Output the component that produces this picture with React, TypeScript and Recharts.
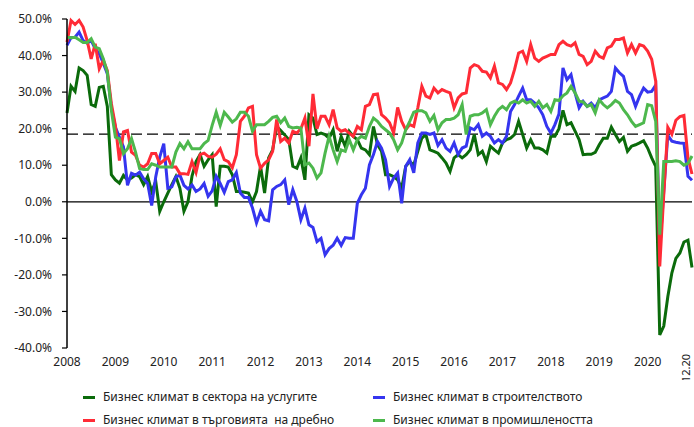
import { LineChart, Line, XAxis, YAxis, ReferenceLine } from 'recharts';

// ---------------------------------------------------------------------------
// Data (monthly, 01.2008 - 12.2020), balance in %
// ---------------------------------------------------------------------------

const years = ['2008', '2009', '2010', '2011', '2012', '2013', '2014', '2015', '2016', '2017', '2018', '2019', '2020'];
const monthNums = ['01', '02', '03', '04', '05', '06', '07', '08', '09', '10', '11', '12'];
const months = years.flatMap((y) => monthNums.map((m) => `${m}.${y}`));

const xTicks = [...years.map((y) => `01.${y}`), '12.2020'];
const lastTickLabel = '12.20';
const yTicks = [-40, -30, -20, -10, 0, 10, 20, 30, 40, 50];
const longTermAverage = 18.5;

const services = [
  24.3, 31.6, 30.2, 36.6, 35.9, 34.6, 26.6, 26.1, 31.3, 31.6,
  26.1, 7.4, 6, 5.1, 7.2, 6, 6.5, 7.4, 6.9, 4.7,
  6.9, 2.8, 5.6, -2.6, 0, 2.4, 4.7, 6.9, 3.7, -2.6,
  0, 7, 11, 12.9, 9.7, 11.5, 12.9, -1.3, 9.7, 9.7,
  9.5, 7.4, 2.8, 2.8, 2.6, 2.4, 0, 2.8, 9.7, 2.4,
  12, 14.2, 20.6, 19.5, 18.3, 17, 9.7, 9.2, 12, 6,
  23.8, 22.9, 18.4, 18.8, 18.4, 17.4, 19.7, 13.8, 17.9, 15.2,
  19.3, 17.9, 17, 14.7, 14.2, 12.9, 20.6, 15.6, 13.8, 7.4,
  7.4, 6.9, 6, 3.7, 9.7, 11, 10.1, 13.8, 17.4, 18.4,
  14.2, 13.8, 13.3, 12, 10.6, 8.3, 12, 12.9, 12, 12.9,
  14.2, 18.4, 12.9, 13.8, 11, 15.2, 14.2, 13.3, 16.1, 17,
  17.4, 18.4, 22, 18.4, 14.7, 17, 14.7, 14.7, 14.2, 13.3,
  17.9, 17.9, 20, 25, 21.1, 21.6, 19.3, 17, 12.9, 13,
  13, 13.5, 15.6, 17.4, 17.4, 20.4, 18.4, 16.5, 17.6, 13.8,
  15.2, 15.6, 16.1, 16.7, 14.7, 12, 9.7, -36.4, -34, -26,
  -19.5, -15.5, -14, -11, -10.5, -18,
];

const construction = [
  42.8, 44.9, 45, 46.4, 44.1, 43.4, 44.1, 41.9, 40.5, 37.9,
  35, 25.8, 20.4, 17.7, 15, 4.5, 7.8, 7.3, 8.1, 6.3,
  5, -1, 6.8, 12.2, 15.9, 3.7, 4.1, 6.8, 7.3, 4.5,
  3.5, 4.6, 2.8, 3.5, 5, 1.5, 3, 7, 5, 2.6,
  5.5, 6, 8, 2.4, 1.2, 1.2, -1.7, -5.8, -2.6, -4.9,
  -5.2, 3.3, 4.2, 4.7, 6, -0.8, 3.3, 0.1, -4.9, -1.7,
  -6.3, -7, -10.9, -10, -14.5, -12.8, -11.9, -10, -11.9, -9.8,
  -10, -10, -0.4, 1.9, 3.7, 10.1, 12.9, 16.5, 14.7, 11.5,
  4.2, 6.5, 7.9, -0.4, 9.7, 11.5, 7.9, 16.1, 18.8, 18.8,
  18.4, 18.8, 15.4, 17, 14.7, 13.8, 16.1, 12.9, 14.7, 15.2,
  20.2, 19.7, 21.1, 17.9, 18.8, 17.9, 16.1, 17, 16.1, 17.9,
  24.7, 26.6, 28.9, 31.1, 27.9, 27.9, 27, 25.7, 23.8, 20.6,
  18.8, 21.1, 24, 36.6, 33.4, 34.8, 29.8, 25.7, 27.5, 26.1,
  27, 25.7, 27.9, 28.4, 28.9, 30.2, 36.6, 35.3, 34.3, 30.2,
  29.3, 26.1, 28.9, 31.1, 30, 30.2, 31.9, -13.2, 3, 18.2,
  16.6, 16.3, 16.1, 16, 7, 5.9,
];

const retail = [
  43.7, 49.6, 48.5, 49.6, 47.8, 44.1, 39.1, 43.2, 36.4, 38.7,
  35.9, 26.9, 20.9, 11.3, 19.1, 19.5, 13.6, 12.7, 10, 9.5,
  10.4, 13.2, 13.2, 10.4, 11.3, 12.2, 9.5, 9.5, 7.7, 7.7,
  7.5, 11, 8, 12.9, 13.3, 12.4, 12.2, 13, 14.5, 11.5,
  11, 9.3, 12.9, 22, 23.4, 25.7, 26.1, 12.9, 9.2, 10.5,
  11.5, 13.8, 22.5, 16.5, 17.4, 16.1, 19.3, 18.8, 20, 22.9,
  15.2, 29.5, 20, 23.4, 23.4, 21.1, 25.2, 20.2, 19.3, 19.7,
  18.8, 17.9, 20.6, 19.7, 26.1, 26.6, 29.3, 29.5, 23.8, 22.9,
  21.6, 18.8, 25.8, 22, 19.7, 21.1, 20.6, 25.7, 31.6, 28.9,
  28.4, 31.1, 29.8, 30.7, 30.2, 29.8, 25.7, 28.4, 29.5, 29.8,
  36.6, 37.5, 37.1, 35.7, 35.5, 33.9, 37.1, 32.5, 32.1, 30.7,
  32.5, 36.2, 40.7, 41.2, 38.4, 43, 39.3, 38.4, 39.3, 39.8,
  40.3, 40.3, 43, 43.9, 43, 42.6, 43.5, 40.3, 39.8, 37.5,
  38.4, 41.2, 39.8, 39.3, 42.1, 42.6, 44.4, 44.4, 44.8, 40.7,
  43, 40.7, 43, 42.6, 41.2, 39, 33, -17.7, 2, 20.4,
  18.5, 22.3, 23.3, 23.6, 12, 7.6,
];

const industry = [
  45, 44.9, 45, 44.3, 43.6, 43.6, 44.6, 42.3, 41.9, 39.1,
  35.4, 25, 17.7, 17.3, 13.2, 14.5, 17.3, 13.6, 9.1, 8.8,
  8.8, 10.4, 10, 9.5, 9.5, 9.5, 9.5, 13.6, 15.9, 14.5,
  16.4, 14.5, 14.5, 14.5, 15.9, 16.8, 20.9, 24.5, 20.9, 24.5,
  23.2, 21.8, 22.7, 24.5, 24.5, 23.4, 19.3, 21.1, 21.1, 21.1,
  22, 23.1, 23.4, 21.6, 22.9, 20.6, 20.2, 20.4, 20.2, 10.1,
  10.6, 9.2, 6.5, 7.9, 13.3, 17.9, 14.2, 11, 14.2, 13.8,
  17, 14.2, 17, 17.9, 17.4, 20.6, 22.9, 22, 20.6, 19.7,
  18.8, 17, 14.2, 16.1, 19.7, 22, 24.5, 24.9, 24.9, 24.3,
  22, 23.6, 19.7, 21.6, 22.5, 22.5, 22.9, 23.8, 26.6, 18.4,
  23.4, 23.8, 23.8, 24.3, 25.2, 21.1, 23.4, 25.2, 26.1, 25.2,
  27, 27.5, 27, 27.9, 27, 27.5, 26.1, 27.5, 25.7, 26.6,
  24.7, 27.9, 27.7, 29, 29.8, 31.6, 29.8, 27.5, 27.3, 26.1,
  26.6, 24.3, 27.9, 26.6, 25.7, 26.6, 27.7, 27, 25.2, 23.8,
  22, 20.6, 21.1, 21.6, 26.6, 26.3, 22, -9, 11, 11,
  11, 11.2, 11, 10, 10.5, 12.5,
];

const series = [
  { key: 'services', name: 'Бизнес климат в сектора на услугите', color: '#0b6b0b' },
  { key: 'construction', name: 'Бизнес климат в строителството', color: '#3535ef' },
  { key: 'retail', name: 'Бизнес климат в търговията  на дребно', color: '#ff2b36' },
  { key: 'industry', name: 'Бизнес климат в промишлеността', color: '#4db84d' },
];

const data = months.map((month, i) => ({
  month,
  services: services[i],
  construction: construction[i],
  retail: retail[i],
  industry: industry[i],
}));

// ---------------------------------------------------------------------------
// Ticks / legend
// ---------------------------------------------------------------------------

const FONT = '"Noto Sans", sans-serif';

function MonthTick(props: any) {
  const { x, y, payload } = props;
  const value: string = payload.value;
  if (value === '12.2020') {
    return (
      <text
        x={0}
        y={0}
        transform={`translate(${x - 2},${y - 3}) rotate(-90)`}
        textAnchor="end"
        fontSize={11}
        fontFamily={FONT}
        fill="#222"
      >
        {lastTickLabel}
      </text>
    );
  }
  return (
    <text x={x} y={y} dy="0.71em" textAnchor="middle" fontSize={12} fontFamily={FONT} fill="#222">
      {value.slice(3)}
    </text>
  );
}

const legendPos = [
  { left: 83, top: 397 },
  { left: 373, top: 397 },
  { left: 83, top: 420 },
  { left: 373, top: 420 },
];

// ---------------------------------------------------------------------------
// Component
// ---------------------------------------------------------------------------

export default function App() {
  return (
    <div
      style={{
        position: 'absolute',
        left: 0,
        top: 0,
        width: 694,
        height: 427,
        background: '#fff',
        fontFamily: FONT,
      }}
    >
      <LineChart
        width={694}
        height={380}
        data={data}
        margin={{ top: 19, right: 2, bottom: 0, left: 7 }}
      >
        <XAxis
          dataKey="month"
          ticks={xTicks}
          interval={0}
          axisLine={false}
          tickLine={false}
          tickMargin={3}
          height={32}
          tick={<MonthTick />}
        />
        <YAxis
          domain={[-40, 50]}
          ticks={yTicks}
          interval={0}
          width={60}
          tickSize={5}
          tickMargin={10}
          axisLine={{ stroke: '#000', strokeWidth: 1.5 }}
          tickLine={{ stroke: '#000', strokeWidth: 1.2 }}
          tick={{ fontSize: 12, fill: '#222', fontFamily: FONT }}
          tickFormatter={(v: number) => `${v.toFixed(1)}%`}
        />
        <ReferenceLine y={0} stroke="#000" strokeWidth={1.3} />
        <ReferenceLine y={longTermAverage} stroke="#000" strokeWidth={1.4} strokeDasharray="11 5" />
        {series.map((s) => (
          <Line
            key={s.key}
            type="linear"
            dataKey={s.key}
            name={s.name}
            stroke={s.color}
            strokeWidth={3}
            dot={false}
            isAnimationActive={false}
          />
        ))}
      </LineChart>
      {series.map((s, i) => (
        <div key={s.key}>
          <div
            style={{
              position: 'absolute',
              left: legendPos[i].left,
              top: legendPos[i].top - 1.5,
              width: 12,
              height: 3,
              background: s.color,
            }}
          />
          <div
            style={{
              position: 'absolute',
              left: legendPos[i].left + 20,
              top: legendPos[i].top - 6,
              lineHeight: '12px',
              fontSize: 12,
              color: '#222',
              whiteSpace: 'pre',
            }}
          >
            {s.name}
          </div>
        </div>
      ))}
    </div>
  );
}
